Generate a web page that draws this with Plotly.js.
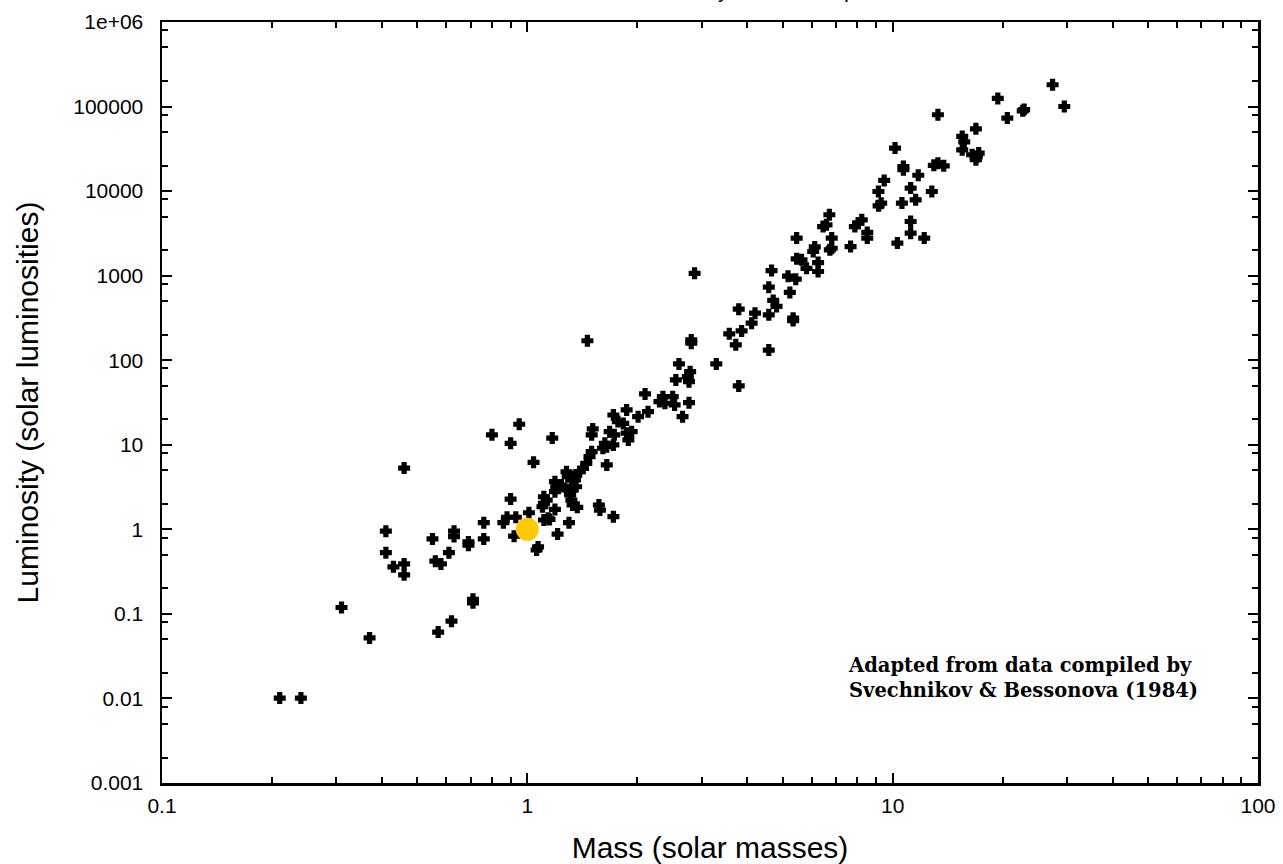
<!DOCTYPE html>
<html>
<head>
<meta charset="utf-8">
<script src="https://cdn.plot.ly/plotly-3.0.1.min.js"></script>
<style>html,body{margin:0;padding:0;background:#fff;}#chart{width:1283px;height:864px;}</style>
</head>
<body>
<div id="chart"></div>
<script>
// Stellar masses (solar masses) and luminosities (solar luminosities)
const mass = [
0.21,0.24,0.31,0.37,0.41,0.41,0.43,0.46,0.46,0.46,
0.55,0.56,0.58,0.57,0.61,0.62,0.63,0.63,0.69,0.69,
0.71,0.71,0.76,0.76,0.80,0.86,0.88,0.90,0.90,0.92,
0.93,0.95,1.01,1.04,1.06,1.07,1.10,1.11,1.11,1.11,
1.13,1.14,1.15,1.17,1.19,1.19,1.19,1.20,1.21,1.24,
1.28,1.28,1.29,1.30,1.31,1.32,1.32,1.33,1.33,1.35,
1.36,1.36,1.37,1.39,1.42,1.45,1.46,1.48,1.50,1.50,
1.51,1.57,1.58,1.61,1.63,1.65,1.65,1.68,1.72,1.72,
1.72,1.73,1.77,1.83,1.87,1.87,1.89,1.93,2.01,2.10,
2.14,2.30,2.35,2.38,2.50,2.53,2.55,2.60,2.66,2.75,
2.77,2.79,2.77,2.81,2.81,2.87,3.29,3.57,3.72,3.79,
3.79,3.86,4.11,4.20,4.58,4.58,4.58,4.66,4.71,4.81,
5.17,5.23,5.34,5.34,5.43,5.46,5.63,5.81,6.06,6.25,
6.25,6.73,5.46,6.12,6.45,6.59,6.71,6.81,6.81,7.67,
7.88,8.05,8.23,8.52,8.52,9.14,9.15,9.30,9.48,10.15,
10.3,10.6,10.7,10.7,11.2,11.2,11.2,11.56,11.75,12.2,
12.8,12.96,13.3,13.8,13.3,15.5,15.7,15.5,16.5,17.0,
17.2,16.9,16.9,19.4,20.6,22.7,22.9,27.4,29.5
];
const lum = [
0.0101,0.0101,0.119,0.052,0.95,0.53,0.36,0.39,0.29,5.3,
0.77,0.42,0.39,0.061,0.53,0.082,0.95,0.82,0.71,0.65,
0.149,0.135,1.2,0.77,13.1,1.2,1.39,10.4,2.28,0.83,
1.39,17.5,1.57,6.2,0.57,0.62,1.85,2.43,2.03,1.29,
2.22,1.35,1.31,12.0,3.66,2.79,1.72,3.19,0.88,3.34,
4.8,2.92,4.19,1.2,2.55,3.06,2.22,4.19,1.94,3.83,
4.39,3.19,1.82,4.8,5.27,6.04,170,7.23,8.28,13.1,
15.4,1.94,1.69,9.1,10.4,5.77,9.5,14.3,22.5,9.95,
1.41,13.1,18.8,17.9,13.7,25.8,11.4,14.3,21.5,39.9,
24.6,32.4,37.1,31.0,37.1,29.6,58.5,90.4,21.5,64,
55.8,73.3,31.5,174,159,1065,90.4,205,152,49.7,
401,222,274,360,731,344,132,1148,509,433,
986,634,314,294,909,1580,1540,1220,1930,1430,
1120,2020,2780,2190,3810,3990,5250,2780,2110,2210,
3810,4180,4570,3250,2780,9890,6700,7200,13360,32300,
2430,7210,19540,17900,10860,4370,3180,7890,15400,2780,
9890,20200,21400,19900,80000,44300,38300,30800,26900,25500,
28200,23500,54600,124800,73100,89100,92000,181000,100200
];
const sunMass = [1.0];
const sunLum = [1.0];

const xTickVals = [0.1, 1, 10, 100];
const xTickText = ["0.1", "1", "10", "100"];
const yTickVals = [0.001, 0.01, 0.1, 1, 10, 100, 1000, 10000, 100000, 1000000];
const yTickText = ["0.001", "0.01", "0.1", "1", "10", "100", "1000", "10000", "100000", "1e+06"];

const xMinor = [];
for (let e = -1; e < 2; e++) for (let d = 2; d <= 9; d++) xMinor.push(d * Math.pow(10, e));
const yMinor = [];
for (let e = -3; e < 6; e++) for (const d of [2, 5, 8]) yMinor.push(d * Math.pow(10, e));

const sans = "Liberation Sans, Arial, sans-serif";
const tickFont = {family: sans, size: 21, color: "#000"};
const titleFont = {family: sans, size: 30, color: "#000"};

const traces = [
  {x: mass, y: lum, type: "scatter", mode: "markers",
   marker: {symbol: "cross", size: 8.5, color: "#000", line: {width: 1.8, color: "#000"}}, showlegend: false},
  {x: sunMass, y: sunLum, type: "scatter", mode: "markers",
   marker: {symbol: "circle", size: 23, color: "#FFC800", line: {width: 0}}, showlegend: false}
];

const layout = {
  width: 1283, height: 864,
  paper_bgcolor: "#fff", plot_bgcolor: "#fff",
  margin: {l: 162, r: 25, t: 22, b: 81},
  xaxis: {type: "log", range: [-1, 2], tickmode: "array", tickvals: xTickVals, ticktext: xTickText,
          ticks: "inside", ticklen: 10, tickwidth: 2, tickcolor: "#000",
          minor: {tickmode: "array", tickvals: xMinor, ticks: "inside", ticklen: 6, tickwidth: 2, tickcolor: "#000"},
          showline: true, linecolor: "#000", linewidth: 2.5, mirror: "allticks",
          showgrid: false, zeroline: false, tickfont: tickFont, ticklabelstandoff: 2,
          title: {text: "Mass (solar masses)", font: titleFont, standoff: 22}},
  yaxis: {type: "log", range: [-3, 6], tickmode: "array", tickvals: yTickVals, ticktext: yTickText,
          ticks: "inside", ticklen: 10, tickwidth: 2, tickcolor: "#000",
          minor: {tickmode: "array", tickvals: yMinor, ticks: "inside", ticklen: 6, tickwidth: 2, tickcolor: "#000"},
          showline: true, linecolor: "#000", linewidth: 2.5, mirror: "allticks",
          showgrid: false, zeroline: false, tickfont: tickFont, ticklabelstandoff: 12,
          title: {text: "Luminosity (solar luminosities)", font: titleFont, standoff: 26}},
  annotations: [
   {xref: "paper", yref: "paper", x: 0.5, y: 1.0236, xanchor: "center", yanchor: "bottom",
    showarrow: false, text: "Mass-Luminosity Relationship",
    font: {family: sans, size: 22, color: "#000"}},
   {xref: "paper", yref: "paper", x: 0.624, y: 0.172, xanchor: "left", yanchor: "top", align: "left",
    showarrow: false,
    text: "Adapted from data compiled by<br>Svechnikov &amp; Bessonova (1984)",
    font: {family: "DejaVu Serif, Liberation Serif, serif", size: 19.5, weight: "bold", color: "#000"}}
  ]
};

Plotly.newPlot("chart", traces, layout, {staticPlot: true});
</script>
</body>
</html>
